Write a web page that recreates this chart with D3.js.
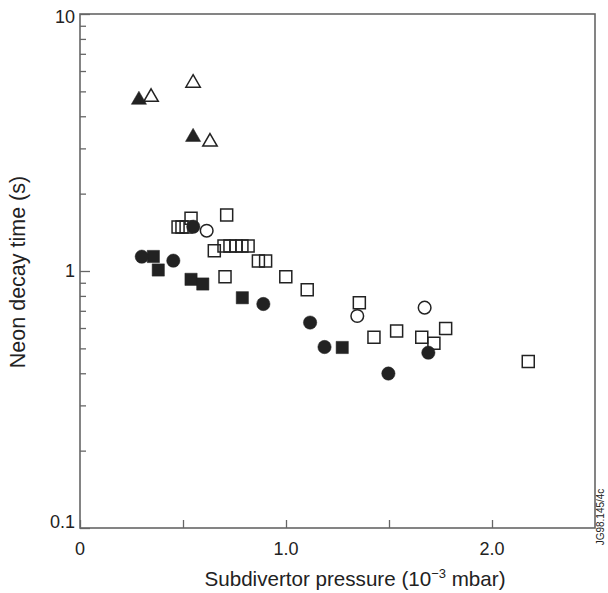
<!DOCTYPE html>
<html>
<head>
<meta charset="utf-8">
<script src="https://cdn.jsdelivr.net/npm/d3@7"></script>
<style>
  body { margin: 0; background: #fff; }
  svg { display: block; }
  text { font-family: "Liberation Sans", Arial, sans-serif; fill: #222; }
</style>
</head>
<body>
<svg id="chart" width="608" height="593"></svg>
<script>
// ---- data (x: subdivertor pressure 1e-3 mbar, y: neon decay time s) ----
const filledTriangleX = [0.286, 0.549];
const filledTriangleY = [4.63, 3.32];
const openTriangleX = [0.345, 0.549, 0.631];
const openTriangleY = [4.75, 5.39, 3.18];
const openSquareX = [0.539, 0.712, 0.476, 0.495, 0.515, 0.652, 0.699, 0.728, 0.757, 0.786, 0.816, 0.866, 0.901, 0.704, 0.999, 1.103, 1.356, 1.427, 1.537, 1.659, 1.718, 1.775, 2.176];
const openSquareY = [1.603, 1.652, 1.483, 1.483, 1.483, 1.200, 1.251, 1.251, 1.251, 1.251, 1.251, 1.094, 1.094, 0.950, 0.950, 0.846, 0.753, 0.552, 0.584, 0.552, 0.523, 0.598, 0.444];
const filledSquareX = [0.356, 0.380, 0.539, 0.596, 0.788, 1.273];
const filledSquareY = [1.139, 1.009, 0.928, 0.890, 0.787, 0.504];
const openCircleX = [0.615, 1.346, 1.673];
const openCircleY = [1.435, 0.668, 0.720];
const filledCircleX = [0.300, 0.453, 0.550, 0.890, 1.117, 1.187, 1.497, 1.691];
const filledCircleY = [1.137, 1.097, 1.487, 0.744, 0.630, 0.506, 0.399, 0.481];

const xTickValues = [0, 0.5, 1.0, 1.5, 2.0];
const xTickLabels = ["0", "", "1.0", "", "2.0"];
const yMajorTicks = [0.1, 1, 10];
const yMajorLabels = ["0.1", "1", "10"];
const xTitle = "Subdivertor pressure (10";
const xTitleSup = "\u22123";
const xTitleEnd = " mbar)";
const yTitle = "Neon decay time (s)";
const stamp = "JG98.145/4c";

// ---- layout ----
const svg = d3.select("#chart");
const L = 80, R = 595, T = 14, B = 528;
const x = d3.scaleLinear().domain([0, 2.5]).range([L, R]);
const y = d3.scaleLog().domain([0.1, 10]).range([B, T]);
const axisColor = "#666";

// minor y ticks
const yMinor = [];
[0.1, 1].forEach(d => { for (let k = 2; k <= 9; k++) yMinor.push(d * k); });

const g = svg.append("g");

// left axis (ticks inward)
const yAxisMajor = d3.axisRight(y).tickValues(yMajorTicks).tickSize(10).tickFormat("");
const yAxisMinor = d3.axisRight(y).tickValues(yMinor).tickSize(6).tickFormat("");
[yAxisMajor, yAxisMinor].forEach(ax => {
  const a = g.append("g").attr("transform", `translate(${L},0)`).call(ax);
  a.select(".domain").remove();
  a.selectAll("line").attr("stroke", axisColor).attr("stroke-width", 1.3);
});
// bottom axis (ticks inward)
const xAxis = d3.axisTop(x).tickValues(xTickValues).tickSize(8).tickFormat("");
const xa = g.append("g").attr("transform", `translate(0,${B})`).call(xAxis);
xa.select(".domain").remove();
xa.selectAll("line").attr("stroke", axisColor).attr("stroke-width", 1.3);

// frame
g.append("rect").attr("x", L).attr("y", T).attr("width", R - L).attr("height", B - T)
  .attr("fill", "none").attr("stroke", axisColor).attr("stroke-width", 1.6);

// tick labels
g.selectAll(".ylab").data(yMajorTicks).enter().append("text")
  .attr("x", L - 5).attr("y", (d, i) => y(d) + 6 + (i === 0 ? -6 : (i === 2 ? 3 : 0)))
  .attr("text-anchor", "end").attr("font-size", 18)
  .text((d, i) => yMajorLabels[i]);
g.selectAll(".xlab").data(xTickValues).enter().append("text")
  .attr("x", d => x(d)).attr("y", B + 27)
  .attr("text-anchor", "middle").attr("font-size", 18)
  .text((d, i) => xTickLabels[i]);

// titles
const xt = g.append("text").attr("x", 355).attr("y", 586)
  .attr("text-anchor", "middle").attr("font-size", 20.6);
xt.append("tspan").text(xTitle);
xt.append("tspan").attr("dy", -8).attr("font-size", 13).text(xTitleSup);
xt.append("tspan").attr("dy", 8).text(xTitleEnd);

g.append("text").attr("transform", `translate(25,${272}) rotate(-90)`)
  .attr("text-anchor", "middle").attr("font-size", 21.5).text(yTitle);

g.append("text").attr("transform", `translate(604,${517}) rotate(-90)`)
  .attr("text-anchor", "middle").attr("font-size", 10).text(stamp);

// ---- marks ----
const pts = (xs, ys) => xs.map((v, i) => ({ x: v, y: ys[i] }));
function draw(data, type, size, filled) {
  const sym = d3.symbol().type(type).size(size);
  g.append("g").selectAll("path").data(data).enter().append("path")
    .attr("transform", d => `translate(${x(d.x)},${y(d.y)})`)
    .attr("d", sym)
    .attr("fill", filled ? "#222" : "none")
    .attr("stroke", "#222")
    .attr("stroke-width", filled ? 0.5 : 1.5);
}
draw(pts(openSquareX, openSquareY), d3.symbolSquare, 144, false);
draw(pts(filledSquareX, filledSquareY), d3.symbolSquare, 150, true);
draw(pts(openCircleX, openCircleY), d3.symbolCircle, 125, false);
draw(pts(filledCircleX, filledCircleY), d3.symbolCircle, 140, true);
draw(pts(openTriangleX, openTriangleY), d3.symbolTriangle, 90, false);
draw(pts(filledTriangleX, filledTriangleY), d3.symbolTriangle, 100, true);
</script>
</body>
</html>
